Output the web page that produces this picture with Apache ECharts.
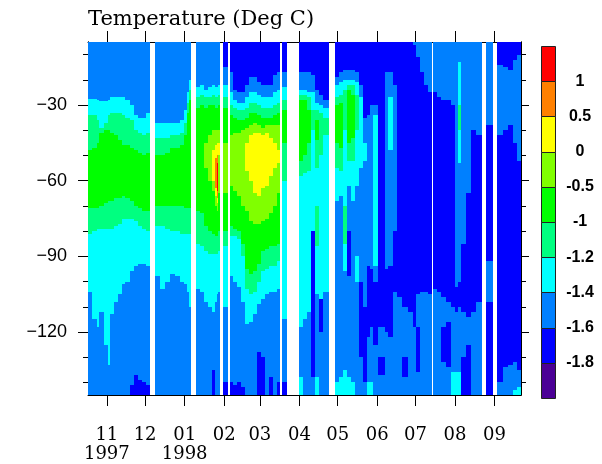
<!DOCTYPE html>
<html>
<head>
<meta charset="utf-8">
<script src="https://cdn.jsdelivr.net/npm/echarts@6/dist/echarts.min.js"></script>
<style>html,body{margin:0;padding:0;background:#fff}#c{width:602px;height:464px}</style>
</head>
<body>
<div id="c"></div>
<script>
// ---- data ----
// time columns: edges in days since 1997-10-01; one depth profile per column ([] = missing data)
// profile = [T0, d1, T1, d2, T2, ...]: temperature class value from the surface (5 m) down to d1, then T1 to d2 ... down to 145 m
const baseDate = '1997-10-01';
const colEdges = [16.2,19.7,22.9,25.2,28.4,31.5,33.1,36.2,39.4,42.5,45.6,48.8,51.9,55.1,58.2,61.3,64.7,68.6,72.3,76.3,80.2,84.1,88.0,91.2,93.5,95.5,96.9,100.6,103.7,106.9,110.0,113.2,115.5,117.3,118.5,120.0,122.0,126.3,127.3,129.7,132.8,135.9,139.1,142.2,145.4,148.5,151.6,154.8,157.9,161.1,164.2,167.1,168.4,172.3,181.5,184.6,187.8,190.9,194.1,197.2,200.3,205.1,209.8,212.9,216.1,219.2,222.3,225.5,228.6,231.7,234.9,237.3,239.6,243.5,249.0,251.4,255.3,258.5,262.4,267.1,271.1,273.4,276.5,279.7,282.8,285.7,286.5,289.9,293.0,297.0,300.9,304.1,306.4,308.8,312.7,316.7,320.6,325.6,328.4,334.2,337.0,341.7,345.6,349.5,352.6,355.8];
const profiles = [
[-1.5,27.5,-1.3,34,-1.1,48,-0.75,71,-1.1,81,-1.3,104,-1.5],
[-1.5,27.5,-1.3,34,-1.1,47,-0.75,71,-1.1,80,-1.3,115,-1.5],
[-1.5,28,-1.3,36,-1.1,45,-0.75,71,-1.1,79,-1.3,118,-1.5],
[-1.5,28.5,-1.3,39,-1.1,41,-0.75,70,-1.1,79,-1.3,112,-1.5],
[-1.5,28.5,-1.3,37,-1.1,40,-0.75,69,-1.1,79,-1.3,125,-1.5],
[-1.5,28,-1.3,34,-1.1,40,-0.75,68,-1.1,79,-1.3,133,-1.5],
[-1.5,27,-1.3,33,-1.1,41,-0.75,68,-1.1,79,-1.3,113,-1.5],
[-1.5,27,-1.3,33,-1.1,42,-0.75,67,-1.1,78,-1.3,108,-1.5],
[-1.5,27,-1.3,33,-1.1,44,-0.75,67,-1.1,77,-1.3,105,-1.5],
[-1.5,27,-1.3,34,-1.1,46,-0.75,66,-1.1,75,-1.3,101,-1.5],
[-1.5,28,-1.3,35,-1.1,46,-0.75,67,-1.1,75,-1.3,100,-1.5],
[-1.5,30,-1.3,36,-1.1,47,-0.75,68,-1.1,75,-1.3,96,-1.5,141,-1.7],
[-1.5,34,-1.3,40,-1.1,48,-0.75,70,-1.1,76,-1.3,94,-1.5,137,-1.7],
[-1.5,35,-1.3,41,-1.1,49,-0.75,71,-1.1,78,-1.3,93,-1.5,139,-1.7],
[-1.5,35,-1.3,42,-1.1,50,-0.75,72,-1.1,79,-1.3,93,-1.5,140,-1.7],
[-1.5,33,-1.3,41,-1.1,49,-0.75,72,-1.1,80,-1.3,94,-1.5,141,-1.7],
[],
[-1.5,37,-1.3,43,-1.1,50,-0.75,70,-1.1,78,-1.3,98,-1.5],
[-1.5,37,-1.3,43,-1.1,50,-0.75,70,-1.1,78,-1.3,103,-1.5],
[-1.5,37,-1.3,43,-1.1,49,-0.75,70,-1.1,79,-1.3,100,-1.5],
[-1.5,37,-1.3,42,-1.1,47,-0.75,70,-1.1,80,-1.3,97,-1.5],
[-1.5,37,-1.3,42,-1.1,47,-0.75,70,-1.1,80,-1.3,98,-1.5],
[-1.5,36,-1.3,41,-1.1,46,-0.75,70,-1.1,81,-1.3,100,-1.5],
[-1.5,32,-1.3,37,-1.1,42,-0.75,71,-1.1,81,-1.3,101,-1.5],
[-1.5,25,-1.3,29,-1.1,33,-0.75,71,-1.1,81,-1.3,104,-1.5],
[-1.5,20,-1.3,24,-1.1,28,-0.75,71,-1.1,81,-1.3,110,-1.5],
[],
[-1.5,23,-1.3,27,-1.1,31,-0.75,72,-1.1,85,-1.3,103,-1.5],
[-1.5,22,-1.3,26,-1.1,30,-0.75,73,-1.1,86,-1.3,104,-1.5],
[-1.5,24,-1.3,27,-1.1,31,-0.75,45,-0.25,55,-0.75,78,-1.1,88,-1.3,108,-1.5],
[-1.5,23,-1.3,27,-1.1,30,-0.75,42,-0.25,60,-0.75,80,-1.1,89,-1.3,110,-1.5],
[-1.5,22,-1.3,26,-1.1,30,-0.75,40,-0.25,48,0.25,60,-0.25,64,-0.75,81,-1.1,89,-1.3,112,-1.5,135,-1.7],
[-1.5,23,-1.3,27,-1.1,31,-0.75,40,-0.25,46,0.25,51,0.75,63,0.25,66,-0.25,70,-0.75,82,-1.1,89,-1.3,108,-1.5],
[-1.5,23,-1.3,27,-1.1,31,-0.75,40,-0.25,45,0.25,50,0.75,53,1.2,64,0.75,67,0.25,69,-0.25,72,-0.75,82,-1.1,89,-1.3,105,-1.5],
[-1.5,22,-1.3,26,-1.1,30,-0.75,40,-0.25,45,0.25,50,-0.25,65,-0.75,80,-1.1,88,-1.3,104,-1.5],
[],
[-1.7,15,-1.5,22,-1.3,27,-1.1,31,-0.75,45,-0.25,65,-0.75,80,-1.1,86,-1.3,110,-1.5,140,-1.7],
[],
[-1.7,17,-1.5,25,-1.3,30,-1.1,34,-0.75,42,-0.25,62,-0.75,78,-1.1,82,-1.3,98,-1.5,140,-1.7],
[-1.7,24,-1.5,28,-1.3,31,-1.1,35,-0.75,41,-0.25,64,-0.75,79,-1.1,82,-1.3,100,-1.5,141,-1.7],
[-1.7,25,-1.5,29,-1.3,32,-1.1,36,-0.75,41,-0.25,66,-0.75,80,-1.1,83,-1.3,102,-1.5,140,-1.7],
[-1.7,25,-1.5,29,-1.3,32,-1.1,36,-0.75,40,-0.25,70,-0.75,85,-1.1,90,-1.3,108,-1.5,142,-1.7],
[-1.7,22,-1.5,27,-1.3,31,-1.1,35,-0.75,39,-0.25,45,0.25,56,-0.25,72,-0.75,95,-1.1,103,-1.3,117,-1.5],
[-1.7,19,-1.5,25,-1.3,29,-1.1,33,-0.75,38,-0.25,42,0.25,60,-0.25,76,-0.75,97,-1.1,105,-1.3,116,-1.5],
[-1.7,19,-1.5,25,-1.3,29,-1.1,33,-0.75,37,-0.25,41,0.25,65,-0.25,77,-0.75,96,-1.1,104,-1.3,113,-1.5],
[-1.7,21,-1.5,26,-1.3,30,-1.1,34,-0.75,38,-0.25,41,0.25,66,-0.25,77,-0.75,93,-1.1,100,-1.3,109,-1.5,128,-1.7],
[-1.7,22,-1.5,27,-1.3,31,-1.1,35,-0.75,39,-0.25,42,0.25,63,-0.25,76,-0.75,88,-1.1,96,-1.3,107,-1.5,130,-1.7],
[-1.7,22,-1.5,27,-1.3,31,-1.1,35,-0.75,38,-0.25,41,0.25,62,-0.25,75,-0.75,87,-1.1,95,-1.3,105,-1.5],
[-1.7,22,-1.5,27,-1.3,31,-1.1,35,-0.75,38,-0.25,43,0.25,58,-0.25,73,-0.75,86,-1.1,94,-1.3,104,-1.5,138,-1.7],
[-1.7,18,-1.5,25,-1.3,30,-1.1,34,-0.75,38,-0.25,45,0.25,55,-0.25,70,-0.75,86,-1.1,94,-1.3,104,-1.5],
[-1.7,17,-1.5,24,-1.3,29,-1.1,33,-0.75,38,-0.25,48,0.25,53,-0.25,65,-0.75,85,-1.1,92,-1.3,103,-1.5,140,-1.7],
[],
[-1.7,17,-1.5,23,-1.3,28,-1.1,32,-0.75,45,-1.1,60,-1.3,115,-1.5,140,-1.7],
[],
[-1.7,17,-1.5,24,-1.3,26,-1.1,28,-0.75,52,-1.1,58,-1.3,118,-1.5,138,-1.3],
[-1.7,17,-1.5,24,-1.3,26,-1.1,28,-0.75,50,-1.1,57,-1.3,115,-1.5],
[-1.7,17,-1.5,25,-1.3,27,-1.1,32,-0.75,45,-1.1,56,-1.3,112,-1.5],
[-1.7,18,-1.5,25,-1.3,32,-1.1,40,-1.3,80,-1.7,138,-1.5],
[-1.7,24,-1.5,29,-1.3,32,-1.1,36,-0.75,44,-1.1,55,-1.3,70,-1.1,86,-1.3,105,-1.5,138,-1.3],
[-1.7,26,-1.5,30,-1.3,33,-1.1,50,-1.3,107,-1.7,120,-1.5],
[-1.7,28,-1.5,31,-1.3,35,-1.1,42,-1.3,104,-1.5],
[],
[-1.7,19,-1.5,22,-1.3,27,-1.1,30,-0.75,45,-1.1,55,-1.3,68,-1.5,140,-1.3],
[-1.7,17,-1.5,21,-1.3,26,-1.1,29,-0.75,47,-1.1,56,-1.3,66,-1.5,138,-1.3],
[-1.7,16,-1.5,20,-1.3,24,-1.1,40,-1.3,70,-1.1,85,-1.3,96,-1.5,135,-1.3],
[-1.7,16,-1.5,20,-1.3,22,-1.1,24,-0.75,45,-1.1,52,-1.3,62,-1.5,80,-1.7,98,-1.5,138,-1.3],
[-1.7,16,-1.5,20,-1.3,22,-1.1,26,-0.75,43,-1.1,52,-1.3,68,-1.5,140,-1.3],
[-1.7,17,-1.5,21,-1.3,26,-1.1,40,-1.3,62,-1.5,90,-1.3,100,-1.5],
[-1.7,22,-1.5,27,-1.3,55,-1.5,100,-1.7,130,-1.5],
[-1.7,35,-1.5,45,-1.3,52,-1.5,110,-1.7,140,-1.5],
[-1.7,34,-1.5,94,-1.7,122,-1.5,140,-1.3],
[-1.7,30,-1.5,95,-1.7,118,-1.5,140,-1.3],
[-1.7,30,-1.5,34,-1.3,94,-1.5,100,-1.7,125,-1.5],
[-1.7,118,-1.5,130,-1.7,137,-1.5],
[-1.7,17,-1.5,95,-1.7,120,-1.5],
[-1.7,17,-1.5,27,-1.3,48,-1.5,94,-1.7,122,-1.5],
[-1.7,22,-1.5,80,-1.7,104,-1.5],
[-1.7,106,-1.5],
[-1.7,110,-1.5,130,-1.7,138,-1.5],
[-1.7,112,-1.5],
[-1.5,6,-1.7,118,-1.5],
[-1.5,11,-1.7,105,-1.5,118,-1.7,136,-1.5],
[-1.5,17,-1.7,104,-1.5],
[-1.5,22,-1.7,104,-1.5],
[-1.5,25,-1.7,105,-1.5],
[],
[-1.5,25,-1.7,103,-1.5],
[-1.5,27,-1.7,104,-1.5],
[-1.5,28,-1.7,106,-1.5,118,-1.7,132,-1.5],
[-1.5,28,-1.7,108,-1.5,116,-1.7,134,-1.5],
[-1.5,30,-1.7,110,-1.5,136,-1.3],
[-1.5,102,-1.7,112,-1.5,136,-1.3],
[-1.5,13,-1.3,30,-1.1,40,-1.3,53,-1.5,100,-1.7,110,-1.5,136,-1.3],
[-1.5,85,-1.7,112,-1.5,130,-1.7],
[-1.5,65,-1.7,114,-1.5,125,-1.7],
[-1.5,40,-1.7,112,-1.5],
[-1.5,42,-1.7,108,-1.5],
[],
[-1.5,38,-1.7,92,-1.5,108,-1.7],
[],
[-1.7,14,-1.5,42,-1.7,140,-1.5],
[-1.7,15,-1.5,40,-1.7,134,-1.5],
[-1.7,16,-1.5,38,-1.7,133,-1.5],
[-1.7,12,-1.5,45,-1.7,132,-1.5,143,-1.3],
[-1.7,10,-1.5,52,-1.7,135,-1.5,142,-1.3]
];
const depthTop = 5, depthBottom = 145;
const levels = [-1.8,-1.6,-1.4,-1.2,-1,-0.5,0,0.5,1];
const levelColors = ['#4b0096','#0000ff','#0080ff','#00ffff','#00ff80','#00ff00','#80ff00','#ffff00','#ff8000','#ff0000'];
const classValues = [-1.9,-1.7,-1.5,-1.3,-1.1,-0.75,-0.25,0.25,0.75,1.2];
const monthTickDays = [31,61,92,123,151,182,212,243,273,304,335];
const monthTickLabels = ['11\n1997','12','01\n1998','02','03','04','05','06','07','08','09'];
const depthMajor = [-120,-90,-60,-30];
const depthMinor = [-140,-130,-110,-100,-80,-70,-50,-40,-20,-10];

// ---- build cells ----
const cells = [];
for (let i = 0; i < profiles.length && i + 1 < colEdges.length; i++) {
  const p = profiles[i];
  if (!p.length) continue;
  let top = depthTop;
  for (let k = 0; k < p.length; k += 2) {
    const bottom = (k + 1 < p.length) ? p[k + 1] : depthBottom;
    cells.push([colEdges[i], colEdges[i + 1], -top, -bottom, p[k]]);
    top = bottom;
  }
}
const barCells = classValues.map((t, i) => [0, 1, i, i + 1, t]);
const pieces = levelColors.map((c, i) => {
  const pc = {color: c};
  if (i > 0) pc.gte = levels[i - 1];
  if (i < levels.length) pc.lt = levels[i];
  return pc;
});

function rectItem(stroke) {
  return function (params, api) {
    const a = api.coord([api.value(0), api.value(2)]);
    const b = api.coord([api.value(1), api.value(3)]);
    const x0 = Math.round(Math.min(a[0], b[0])), x1 = Math.round(Math.max(a[0], b[0]));
    const y0 = Math.round(Math.min(a[1], b[1])), y1 = Math.round(Math.max(a[1], b[1]));
    const style = {fill: api.visual('color')};
    if (stroke) { style.stroke = '#222'; style.lineWidth = 1; }
    return {type: 'rect', shape: {x: x0 + (stroke ? 0.5 : 0), y: y0 + (stroke ? 0.5 : 0), width: x1 - x0, height: y1 - y0}, style: style};
  };
}

const xMin = colEdges[0], xMax = colEdges[colEdges.length - 1];
const serif = 'DejaVu Serif', sans = 'Liberation Sans';
const axisLine = {show: true, onZero: false, lineStyle: {color: '#000', width: 1}};

const chart = echarts.init(document.getElementById('c'));
chart.setOption({
  animation: false,
  backgroundColor: '#fff',
  title: {text: 'Temperature (Deg C)', left: 88, top: 9, padding: 0,
    textStyle: {fontFamily: serif, fontWeight: 'normal', fontSize: 21, color: '#000'}},
  grid: [
    {left: 88, top: 42, width: 433, height: 361},
    {left: 541, top: 46, width: 14, height: 352}
  ],
  visualMap: {type: 'piecewise', show: false, dimension: 4, seriesIndex: [0, 1], pieces: pieces},
  xAxis: [
    {gridIndex: 0, type: 'value', position: 'bottom', min: xMin, max: xMax, axisLine: axisLine,
      axisTick: {show: true, customValues: monthTickDays, length: 11, lineStyle: {color: '#000'}},
      axisLabel: {customValues: monthTickDays, formatter: v => monthTickLabels[monthTickDays.indexOf(v)] || '',
        fontFamily: serif, fontSize: 18, color: '#000', margin: 31, lineHeight: 19},
      splitLine: {show: false}},
    {gridIndex: 0, type: 'value', position: 'top', min: xMin, max: xMax, axisLine: axisLine,
      axisTick: {show: true, customValues: monthTickDays, length: 11, lineStyle: {color: '#000'}},
      axisLabel: {show: false}, splitLine: {show: false}},
    {gridIndex: 1, type: 'value', min: 0, max: 1, show: false}
  ],
  yAxis: [
    {gridIndex: 0, type: 'value', position: 'left', min: -depthBottom, max: -depthTop, axisLine: axisLine,
      axisTick: {show: true, customValues: depthMajor, length: 10, lineStyle: {color: '#000'}},
      axisLabel: {customValues: depthMajor, formatter: v => '\u2212' + Math.abs(v), fontFamily: sans, fontSize: 18, color: '#000', margin: 21},
      splitLine: {show: false}},
    {gridIndex: 0, type: 'value', position: 'left', min: -depthBottom, max: -depthTop, axisLine: axisLine,
      axisTick: {show: true, customValues: depthMinor, length: 5, lineStyle: {color: '#000'}},
      axisLabel: {show: false}, splitLine: {show: false}},
    {gridIndex: 0, type: 'value', position: 'right', min: -depthBottom, max: -depthTop, axisLine: axisLine,
      axisTick: {show: true, customValues: depthMajor, length: 8, lineStyle: {color: '#000'}},
      axisLabel: {show: false}, splitLine: {show: false}},
    {gridIndex: 0, type: 'value', position: 'right', min: -depthBottom, max: -depthTop, axisLine: axisLine,
      axisTick: {show: true, customValues: depthMinor, length: 5, lineStyle: {color: '#000'}},
      axisLabel: {show: false}, splitLine: {show: false}},
    {gridIndex: 1, type: 'value', position: 'right', min: 0, max: 10, axisLine: {show: false}, axisTick: {show: false},
      axisLabel: {customValues: [1,2,3,4,5,6,7,8,9], formatter: v => String(levels[v - 1]), align: 'center',
        margin: 25, fontFamily: sans, fontWeight: 'bold', fontSize: 16, color: '#000'},
      splitLine: {show: false}}
  ],
  series: [
    {type: 'custom', xAxisIndex: 0, yAxisIndex: 0, renderItem: rectItem(false), data: cells,
      encode: {x: [0, 1], y: [2, 3]}, clip: true, silent: true},
    {type: 'custom', xAxisIndex: 2, yAxisIndex: 4, renderItem: rectItem(true), data: barCells,
      encode: {x: [0, 1], y: [2, 3]}, silent: true}
  ]
});
</script>
</body>
</html>
